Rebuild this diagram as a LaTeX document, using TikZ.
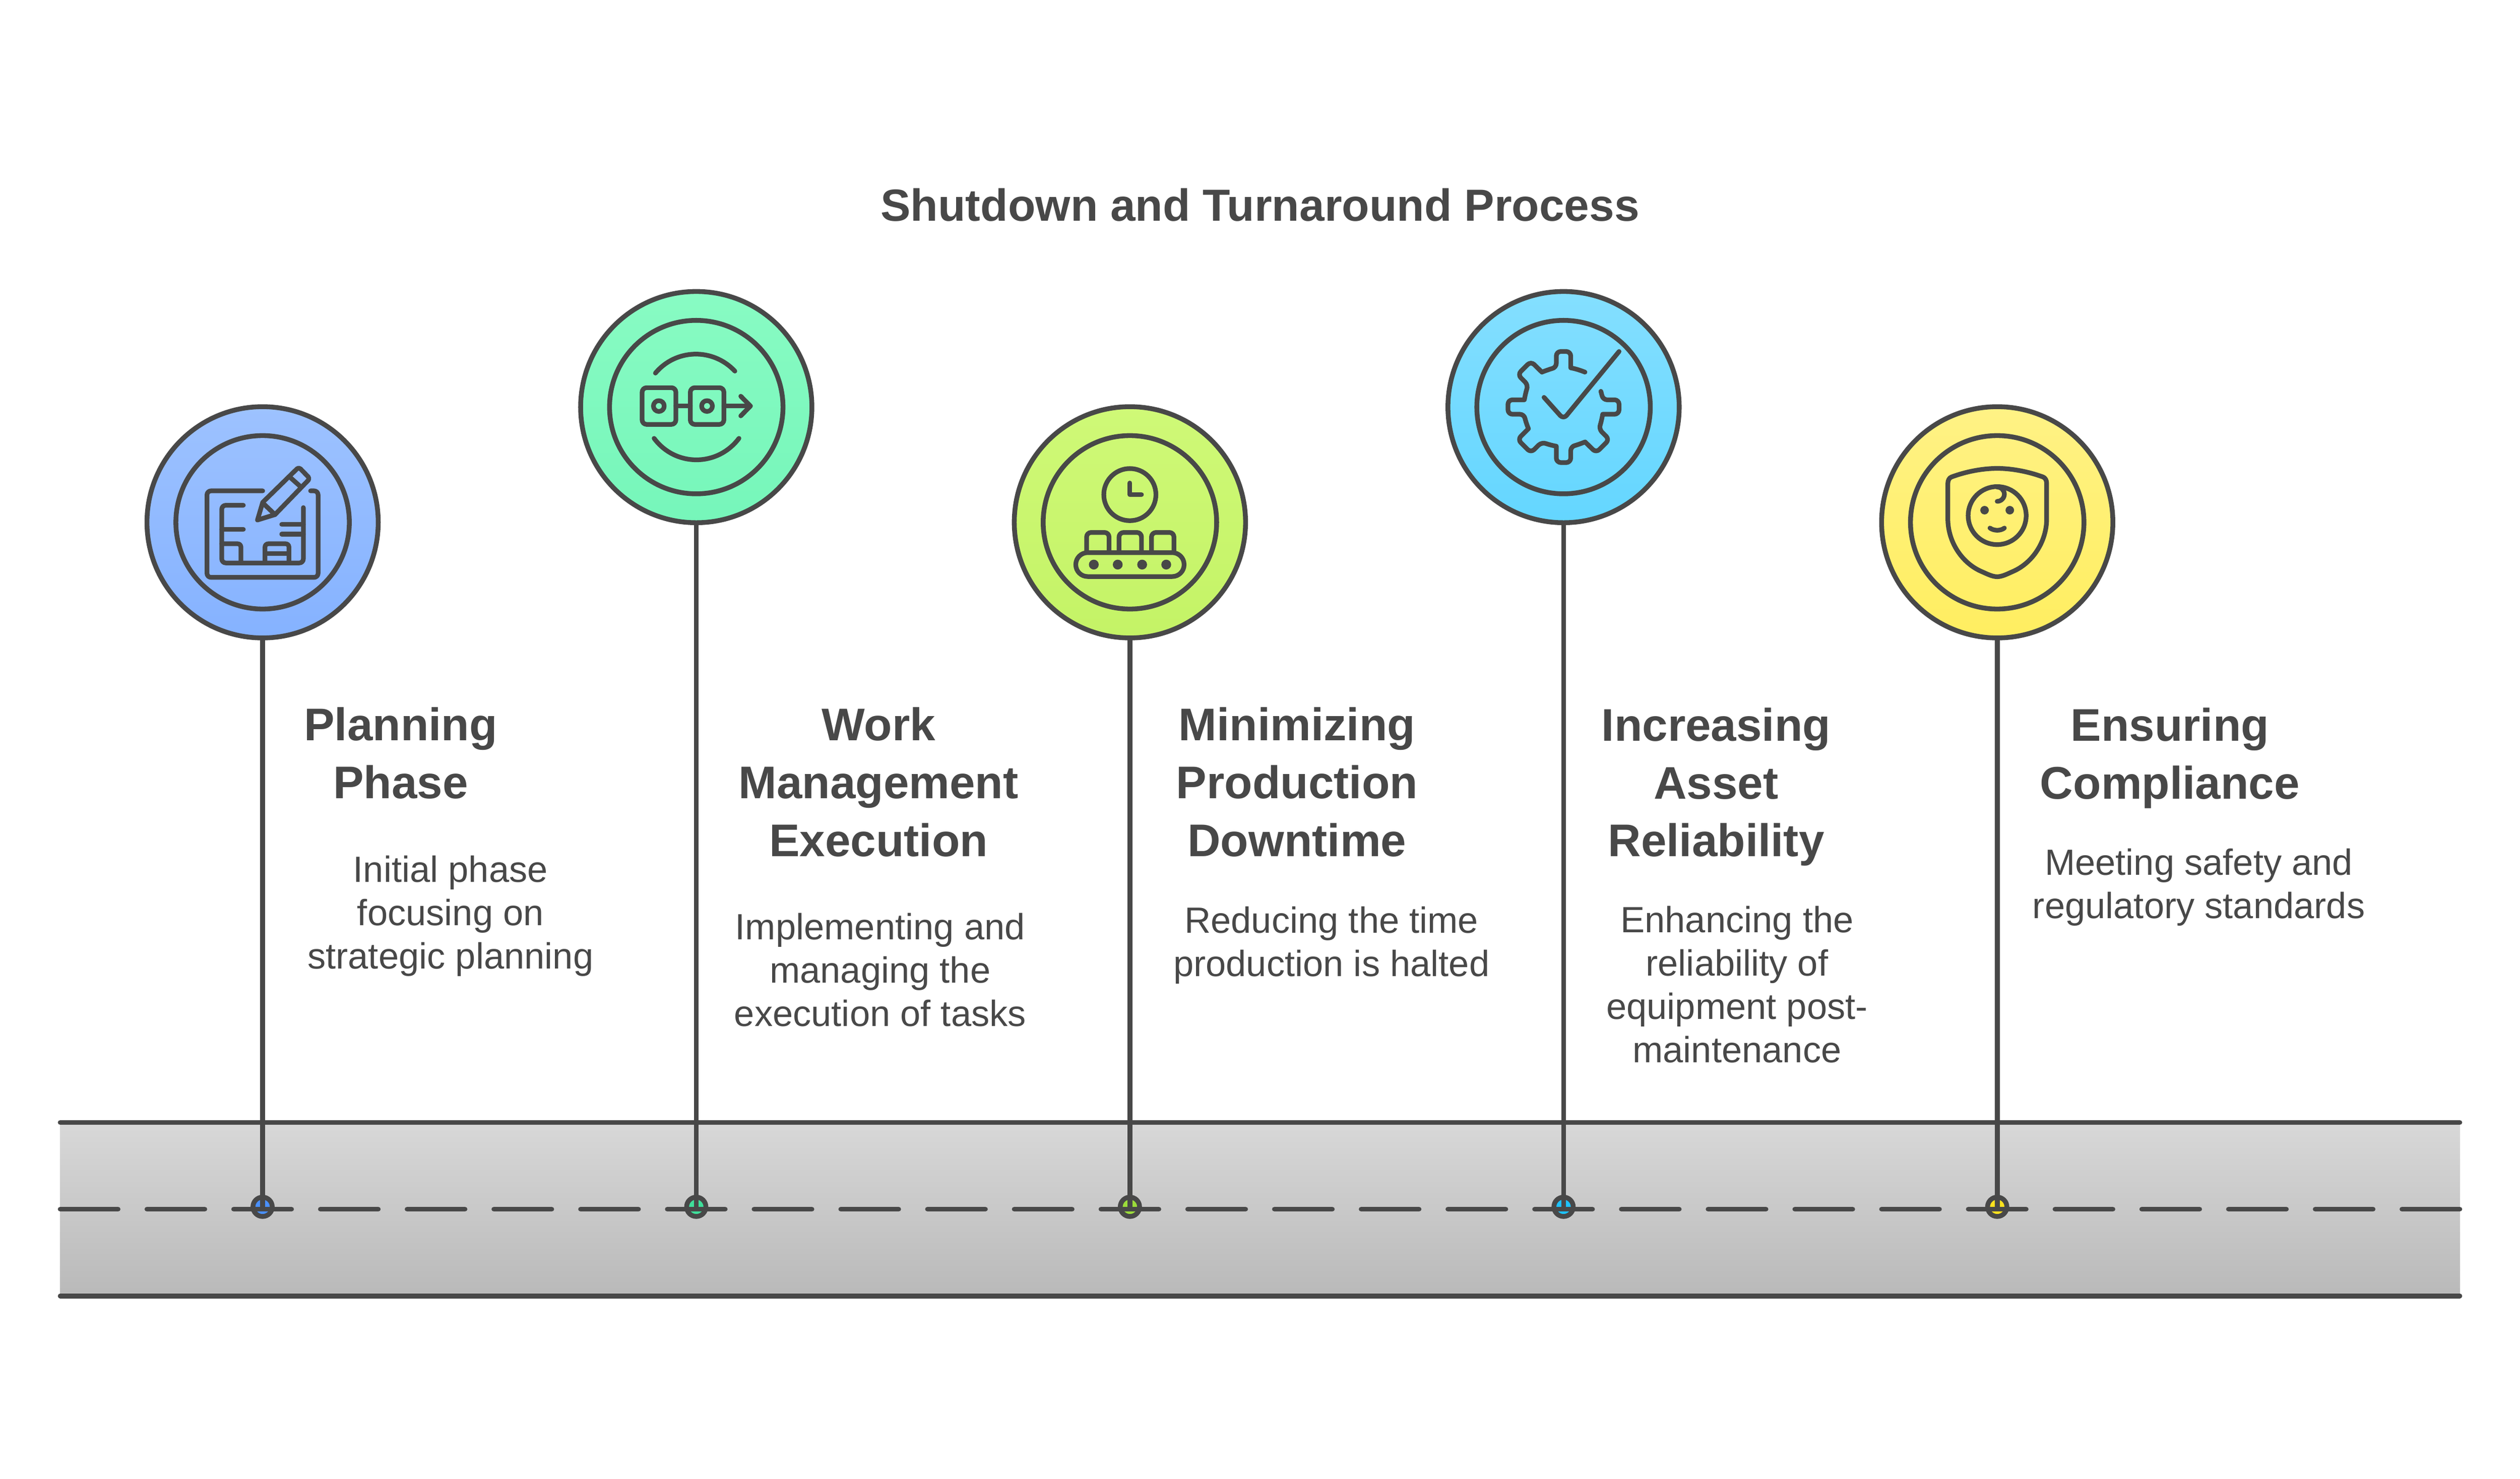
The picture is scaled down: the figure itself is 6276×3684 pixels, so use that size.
\documentclass[tikz,border=0pt]{standalone}
\usepackage{fontspec}
\setmainfont{Liberation Sans}
\usetikzlibrary{positioning}
\definecolor{ink}{HTML}{484848}
\definecolor{planTop}{HTML}{9DC2FF}
\definecolor{planEnd}{HTML}{85B2FF}
\definecolor{planMid}{HTML}{4A90FF}
\definecolor{workTop}{HTML}{88FBC3}
\definecolor{workEnd}{HTML}{76F6BA}
\definecolor{workMid}{HTML}{3FDE9A}
\definecolor{miniTop}{HTML}{CFF977}
\definecolor{miniEnd}{HTML}{C4F366}
\definecolor{miniMid}{HTML}{9BDC3A}
\definecolor{assetTop}{HTML}{84DFFF}
\definecolor{assetEnd}{HTML}{64D6FF}
\definecolor{assetMid}{HTML}{1EC2FF}
\definecolor{complyTop}{HTML}{FFF285}
\definecolor{complyEnd}{HTML}{FFEE60}
\definecolor{complyMid}{HTML}{FFE11E}
\definecolor{roadTop}{HTML}{D8D8D8}
\definecolor{roadEnd}{HTML}{B9B9B9}
\tikzset{
  lollipop/.style={circle,draw=ink,line width=3pt,minimum size=144pt,inner sep=0pt},
  ring/.style={circle,draw=ink,line width=3pt,minimum size=108pt,inner sep=0pt},
  marker/.style={circle,draw=ink,line width=3pt,minimum size=12pt,inner sep=0pt},
  titletext/.style={text=ink,font=\fontsize{28}{36}\selectfont\bfseries,align=center},
  heading/.style={text=ink,font=\fontsize{28.5}{36}\selectfont\bfseries,align=center},
  bodytext/.style={text=ink,font=\fontsize{22.7}{27}\selectfont,align=center},
  road/.style={draw=ink,line width=3pt,line cap=round},
  stem/.style={draw=ink,line width=3pt,line cap=round},
  icon/.style={draw=ink,line width=2.9pt,line cap=round,line join=round,x=0.10204pt,y=-0.10204pt},
}
\begin{document}
\begin{tikzpicture}[x=0.25pt,y=-0.25pt]
 \useasboundingbox (0,0) rectangle (6276,3684);
 % road
 \coordinate (roadTL) at (150,2796);
 \coordinate (roadTR) at (6126,2796);
 \coordinate (roadML) at (150,3012);
 \coordinate (roadMR) at (6126,3012);
 \coordinate (roadBL) at (150,3228);
 \coordinate (roadBR) at (6126,3228);
 \fill[top color=roadTop,bottom color=roadEnd] (roadTL) rectangle (roadBR);
 \draw[road] (roadTL)--(roadTR);
 \draw[road] (roadBL)--(roadBR);
 % markers
 \node[marker,fill=planMid] (planDot) at (654,3006) {};
 \node[marker,fill=workMid] (workDot) at (1734,3006) {};
 \node[marker,fill=miniMid] (miniDot) at (2814,3006) {};
 \node[marker,fill=assetMid] (assetDot) at (3894,3006) {};
 \node[marker,fill=complyMid] (complyDot) at (4974,3006) {};
 \draw[road,dash pattern=on 36pt off 18pt] (roadML)--(roadMR);
 % circles
 \node[lollipop,top color=planTop,bottom color=planEnd] (plan) at (654,1301) {};
 \node[lollipop,top color=workTop,bottom color=workEnd] (work) at (1734,1014) {};
 \node[lollipop,top color=miniTop,bottom color=miniEnd] (mini) at (2814,1301) {};
 \node[lollipop,top color=assetTop,bottom color=assetEnd] (asset) at (3894,1014) {};
 \node[lollipop,top color=complyTop,bottom color=complyEnd] (comply) at (4974,1301) {};
 \node[ring] at (plan) {};
 \node[ring] at (work) {};
 \node[ring] at (mini) {};
 \node[ring] at (asset) {};
 \node[ring] at (comply) {};
 % stems
 \draw[stem] (plan.south)--(planDot.center);
 \draw[stem] (work.south)--(workDot.center);
 \draw[stem] (mini.south)--(miniDot.center);
 \draw[stem] (asset.south)--(assetDot.center);
 \draw[stem] (comply.south)--(complyDot.center);
 % blueprint
 \begin{scope}[shift={(340,990)},icon]
  \draw[rounded corners=2.5pt] (770,570)--(430,570)--(430,1098)--(1108,1098)--(1108,570)--(1062,570);
  \draw[rounded corners=2.5pt] (652,658)--(520,658)--(520,1010)--(1018,1010)--(1018,672);
  \draw (520,805)--(652,805);
  \draw[rounded corners=2pt] (520,893)--(637,893)--(637,1010);
  \draw[rounded corners=2pt] (784,1010)--(784,893)--(930,893)--(930,1010);
  \draw (784,952)--(930,952);
  \draw (886,775)--(1018,775);
  \draw (886,834)--(1018,834);
  \draw (738,748)--(770,640)[rounded corners=1.5pt]--(990,425)--(1058,495)[sharp corners]--(845,715)--cycle;
  \draw (777,650)--(845,715);
  \draw (940,490)--(1005,548);
 \end{scope}
 % glasses
 \begin{scope}[shift={(1420,700)},icon]
  \draw (520,562) .. controls (645,412) and (872,407) .. (1005,550);
  \draw (512,960) .. controls (642,1135) and (898,1135) .. (1030,960);
  \draw[rounded corners=2.8pt] (439,651) rectangle (645,875);
  \draw[rounded corners=2.8pt] (733,651) rectangle (938,875);
  \draw (645,763)--(733,763);
  \draw (938,763)--(1100,763);
  \draw (1041,703)--(1100,763)--(1041,823);
  \draw (541,763) circle (33);
  \draw (835,763) circle (33);
 \end{scope}
 % clock and belt
 \begin{scope}[shift={(2500,990)},icon]
  \draw (769,593) circle (159);
  \draw (769,522)--(769,593)--(840,593);
  \draw[rounded corners=2.8pt] (505,945)--(505,824)--(642,824)--(642,945);
  \draw[rounded corners=2.8pt] (703,945)--(703,824)--(840,824)--(840,945);
  \draw[rounded corners=2.8pt] (901,945)--(901,824)--(1038,824)--(1038,945);
  \draw[rounded corners=7.4pt] (439,947) rectangle (1100,1093);
  \fill[ink,draw=none] (549,1020) circle (30);
  \fill[ink,draw=none] (695,1020) circle (30);
  \fill[ink,draw=none] (844,1020) circle (30);
  \fill[ink,draw=none] (991,1020) circle (30);
 \end{scope}
 % gear and tick
 \begin{scope}[shift={(3580,700)},icon]
  \draw (900,556) .. controls (872,545) and (842,535) .. (813,530)
   [rounded corners=2.8pt]--(813,430)--(725,430)--(725,530)[sharp corners]
   .. controls (695,535) and (665,545) .. (637,556)
   [rounded corners=2.8pt]--(570,490)--(489,571)--(555,637)[sharp corners]
   .. controls (543,665) and (535,695) .. (530,725)
   [rounded corners=2.8pt]--(430,725)--(430,813)--(530,813)[sharp corners]
   .. controls (535,843) and (543,873) .. (555,901)
   [rounded corners=2.8pt]--(489,967)--(570,1048)--(637,982)[sharp corners]
   .. controls (665,993) and (695,1003) .. (725,1008)
   [rounded corners=2.8pt]--(725,1108)--(813,1108)--(813,1008)[sharp corners]
   .. controls (843,1003) and (873,993) .. (901,982)
   [rounded corners=2.8pt]--(968,1048)--(1049,967)--(983,901)[sharp corners]
   .. controls (995,873) and (1003,843) .. (1008,813)
   [rounded corners=2.8pt]--(1108,813)--(1108,725)--(1008,725)[sharp corners]
   .. controls (1005,707) and (1002,690) .. (997,673);
  \draw[rounded corners=3pt] (650,710)--(769,843)--(1108,430);
 \end{scope}
 % shield and face
 \begin{scope}[shift={(4660,990)},icon]
  \draw (769,433) .. controls (860,433) and (960,453) .. (1048,485)
   .. controls (1062,490) and (1071,505) .. (1071,525)--(1071,740)
   .. controls (1071,880) and (985,1010) .. (865,1062)
   .. controls (835,1075) and (800,1094) .. (769,1094)
   .. controls (738,1094) and (703,1075) .. (673,1062)
   .. controls (553,1010) and (468,880) .. (468,740)--(468,525)
   .. controls (468,505) and (477,490) .. (491,485)
   .. controls (578,453) and (678,433) .. (769,433)--cycle;
  \draw (769,721) circle (177);
  \draw (769,547) .. controls (793,547) and (813,567) .. (813,590) .. controls (813,614) and (793,634) .. (769,634);
  \fill[ink,draw=none] (692,688) circle (26);
  \fill[ink,draw=none] (846,688) circle (26);
  \draw (725,797) .. controls (750,815) and (790,815) .. (813,797);
 \end{scope}
 % texts
 \node[titletext] (title) at (3138,510) {Shutdown and Turnaround Process};
 \node[heading] (planHead) at (998,1876) {Planning\\Phase};
 \node[heading] (workHead) at (2188,1948) {Work\\Management\\Execution};
 \node[heading] (miniHead) at (3230,1948) {Minimizing\\Production\\Downtime};
 \node[heading] (assetHead) at (4274,1960) {Increasing\\Asset\\Reliability};
 \node[heading] (complyHead) at (5404,1888) {Ensuring\\Compliance};
 \node[bodytext] (planText) at (1122,2282) {Initial phase\\focusing on\\strategic planning};
 \node[bodytext] (workText) at (2192,2416) {Implementing and\\managing the\\execution of tasks};
 \node[bodytext] (miniText) at (3316,2354) {Reducing the time\\production is halted};
 \node[bodytext] (assetText) at (4326,2452) {Enhancing the\\reliability of\\equipment post-\\maintenance};
 \node[bodytext] (complyText) at (5476,2210) {Meeting safety and\\regulatory standards};
\end{tikzpicture}
\end{document}
